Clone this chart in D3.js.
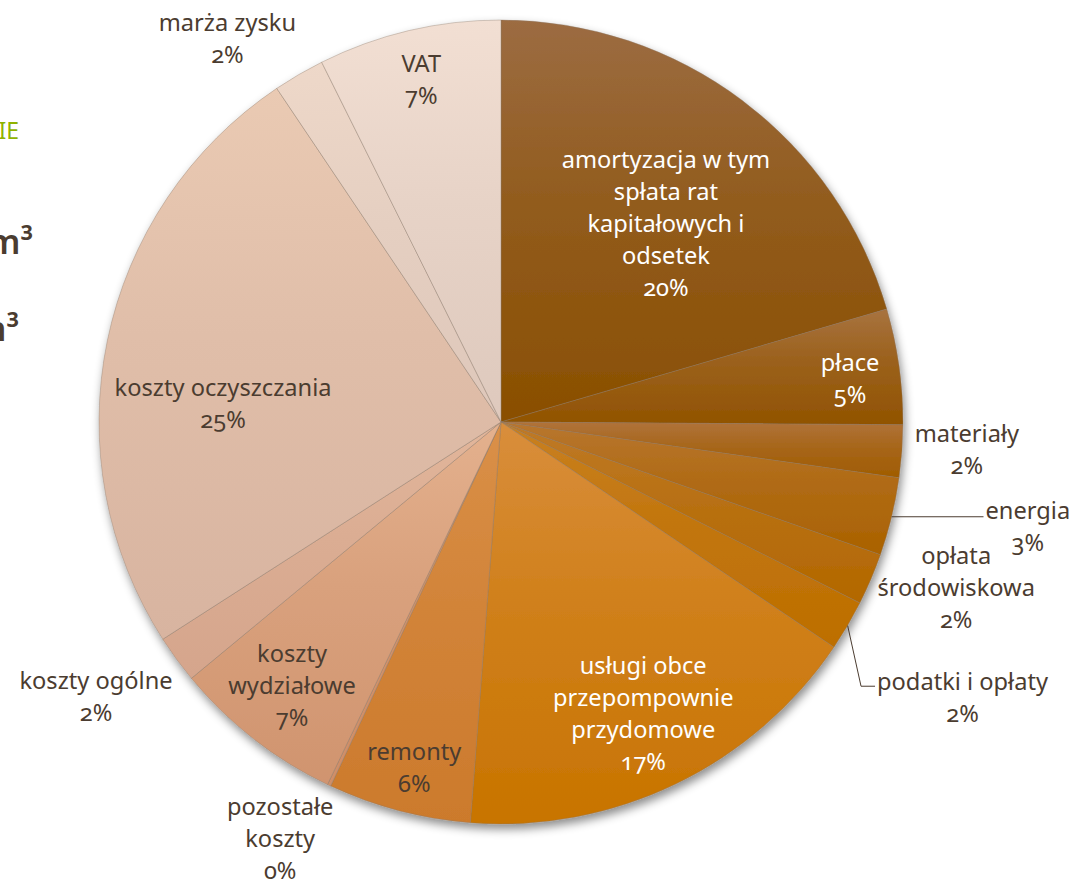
<!DOCTYPE html>
<html>
<head>
<meta charset="utf-8">
<script src="https://cdn.jsdelivr.net/npm/d3@7"></script>
<style>
  html, body { margin: 0; padding: 0; background: #fff; overflow: hidden; }
  text { font-family: "Noto Sans", "Open Sans", sans-serif; font-variant-numeric: oldstyle-nums; font-feature-settings: "onum" 1; }
</style>
</head>
<body>
<svg id="chart"></svg>
<script>
// slice names (lines split as in the picture) and shares in %
const categories = [
  ["amortyzacja w tym", "spłata rat", "kapitałowych i", "odsetek"],
  ["płace"],
  ["materiały"],
  ["energia"],
  ["opłata", "środowiskowa"],
  ["podatki i opłaty"],
  ["usługi obce", "przepompownie", "przydomowe"],
  ["remonty"],
  ["pozostałe", "koszty"],
  ["koszty", "wydziałowe"],
  ["koszty ogólne"],
  ["koszty oczyszczania"],
  ["marża zysku"],
  ["VAT"]
]
const values = [20.47, 4.64, 2.11, 3.14, 2.08, 2.03, 16.75, 5.75, 0.14, 6.89, 1.92, 24.67, 2.06, 7.36]
const pctLabels = ["20%", "5%", "2%", "3%", "2%", "2%", "17%", "6%", "0%", "7%", "2%", "25%", "2%", "7%"]

// gradient top / bottom colours per slice
const topColors = ["#9c6c42", "#a8733f", "#b0733a", "#b8762f", "#bf7a28", "#c98020", "#d98e3c", "#da9048", "#d99a6a", "#e4b18e", "#e2b69b", "#eacab3", "#eed8c9", "#f2dfd3"]
const botColors = ["#8a4f00", "#915300", "#a05c00", "#aa6200", "#b36800", "#bd6e00", "#c87400", "#cc7a2c", "#cf8e68", "#d0946f", "#d5a58c", "#d8b4a0", "#dec7ba", "#dec9bd"]
const textColors = ["#fff", "#fff", "dark", "dark", "dark", "dark", "#fff", "dark", "dark", "dark", "dark", "dark", "dark", "dark"]

// label placement: [angle in degrees from 12 o'clock, radius as fraction of pie radius]
const labelPolar = [[39.8, 0.641], [82.9, 0.875], [93.4, 1.161], [101.2, 1.336], [110.0, 1.205], [120.9, 1.338],
  [154.0, 0.807], [194.1, 0.886], [207.9, 1.174], [218.4, 0.837], [235.8, 1.218], [273.8, 0.693], [324.5, 1.172], [346.9, 0.875]]
const leaderSlices = [3, 5]

const W = 1069, H = 882
const cx = 501, cy = 422, R = 402
const dark = "#4b3c30"
const lineH = 32

const svg = d3.select("#chart").attr("width", W).attr("height", H)
const defs = svg.append("defs")

const shadow = defs.append("filter").attr("id", "shadow")
  .attr("x", "-10%").attr("y", "-10%").attr("width", "120%").attr("height", "125%")
shadow.append("feDropShadow").attr("dx", 2).attr("dy", 5).attr("stdDeviation", 5)
  .attr("flood-color", "#000").attr("flood-opacity", 0.45)

values.forEach((v, i) => {
  const g = defs.append("linearGradient").attr("id", "grad" + i)
    .attr("x1", 0).attr("y1", 0).attr("x2", 0).attr("y2", 1)
  g.append("stop").attr("offset", "0%").attr("stop-color", topColors[i])
  g.append("stop").attr("offset", "45%").attr("stop-color", d3.interpolateRgb(topColors[i], botColors[i])(0.55))
  g.append("stop").attr("offset", "100%").attr("stop-color", botColors[i])
})

// cut-off text from the slide on the left
svg.append("text").attr("x", 19).attr("y", 139).attr("text-anchor", "end")
  .style("font-size", "23px").style("fill", "#8fb300").text("IE")
svg.append("text").attr("x", 33).attr("y", 254).attr("text-anchor", "end")
  .style("font-size", "34px").style("font-weight", 600).style("fill", dark).text("m³")
svg.append("text").attr("x", 19).attr("y", 341).attr("text-anchor", "end")
  .style("font-size", "34px").style("font-weight", 600).style("fill", dark).text("m³")

const pie = d3.pie().sort(null).value(d => d)
const arcs = pie(values)
const arc = d3.arc().innerRadius(0).outerRadius(R)

const chart = svg.append("g").attr("transform", `translate(${cx},${cy})`)

chart.append("g").attr("filter", "url(#shadow)")
  .selectAll("path")
  .data(arcs)
  .enter()
  .append("path")
  .attr("d", arc)
  .attr("fill", (d, i) => `url(#grad${i})`)
  .attr("stroke", "rgba(140,120,105,0.55)")
  .attr("stroke-width", 0.7)

// find font size so the widest one-line label matches the picture
const probe = svg.append("text").style("font-size", "20px").text("koszty oczyszczania")
const fontSize = 20 * 217 / probe.node().getComputedTextLength()
probe.remove()

const polar = (deg, r) => {
  const a = deg * Math.PI / 180
  return [Math.sin(a) * r, -Math.cos(a) * r]
}

const labels = chart.append("g")
const boxes = []
arcs.forEach((d, i) => {
  const lines = categories[i].concat([pctLabels[i]])
  const [lx, ly] = polar(labelPolar[i][0], labelPolar[i][1] * R)
  const y0 = ly - (lines.length - 1) * lineH / 2
  const t = labels.append("text")
    .attr("text-anchor", "middle")
    .style("font-size", fontSize + "px")
    .style("fill", textColors[i] === "dark" ? dark : textColors[i])
  lines.forEach((ln, k) => {
    t.append("tspan").attr("x", lx).attr("y", y0 + k * lineH).attr("dy", "0.35em").text(ln)
  })
  boxes.push({ x: lx, y0: y0, node: t.node() })
})

// leader lines for energia and podatki i opłaty
leaderSlices.forEach(i => {
  const d = arcs[i]
  const mid = (d.startAngle + d.endAngle) / 2
  const sx = Math.sin(mid) * R, sy = -Math.cos(mid) * R
  const first = boxes[i].node.querySelector("tspan")
  const left = boxes[i].x - first.getComputedTextLength() / 2 - 2
  let pts
  if (i === 3) pts = [[sx, sy], [left, sy]]
  else pts = [[sx, sy], [left - 14, boxes[i].y0 + 4], [left, boxes[i].y0 + 4]]
  chart.append("path")
    .attr("d", d3.line()(pts))
    .attr("fill", "none")
    .attr("stroke", dark)
    .attr("stroke-width", 1)
})
</script>
</body>
</html>
